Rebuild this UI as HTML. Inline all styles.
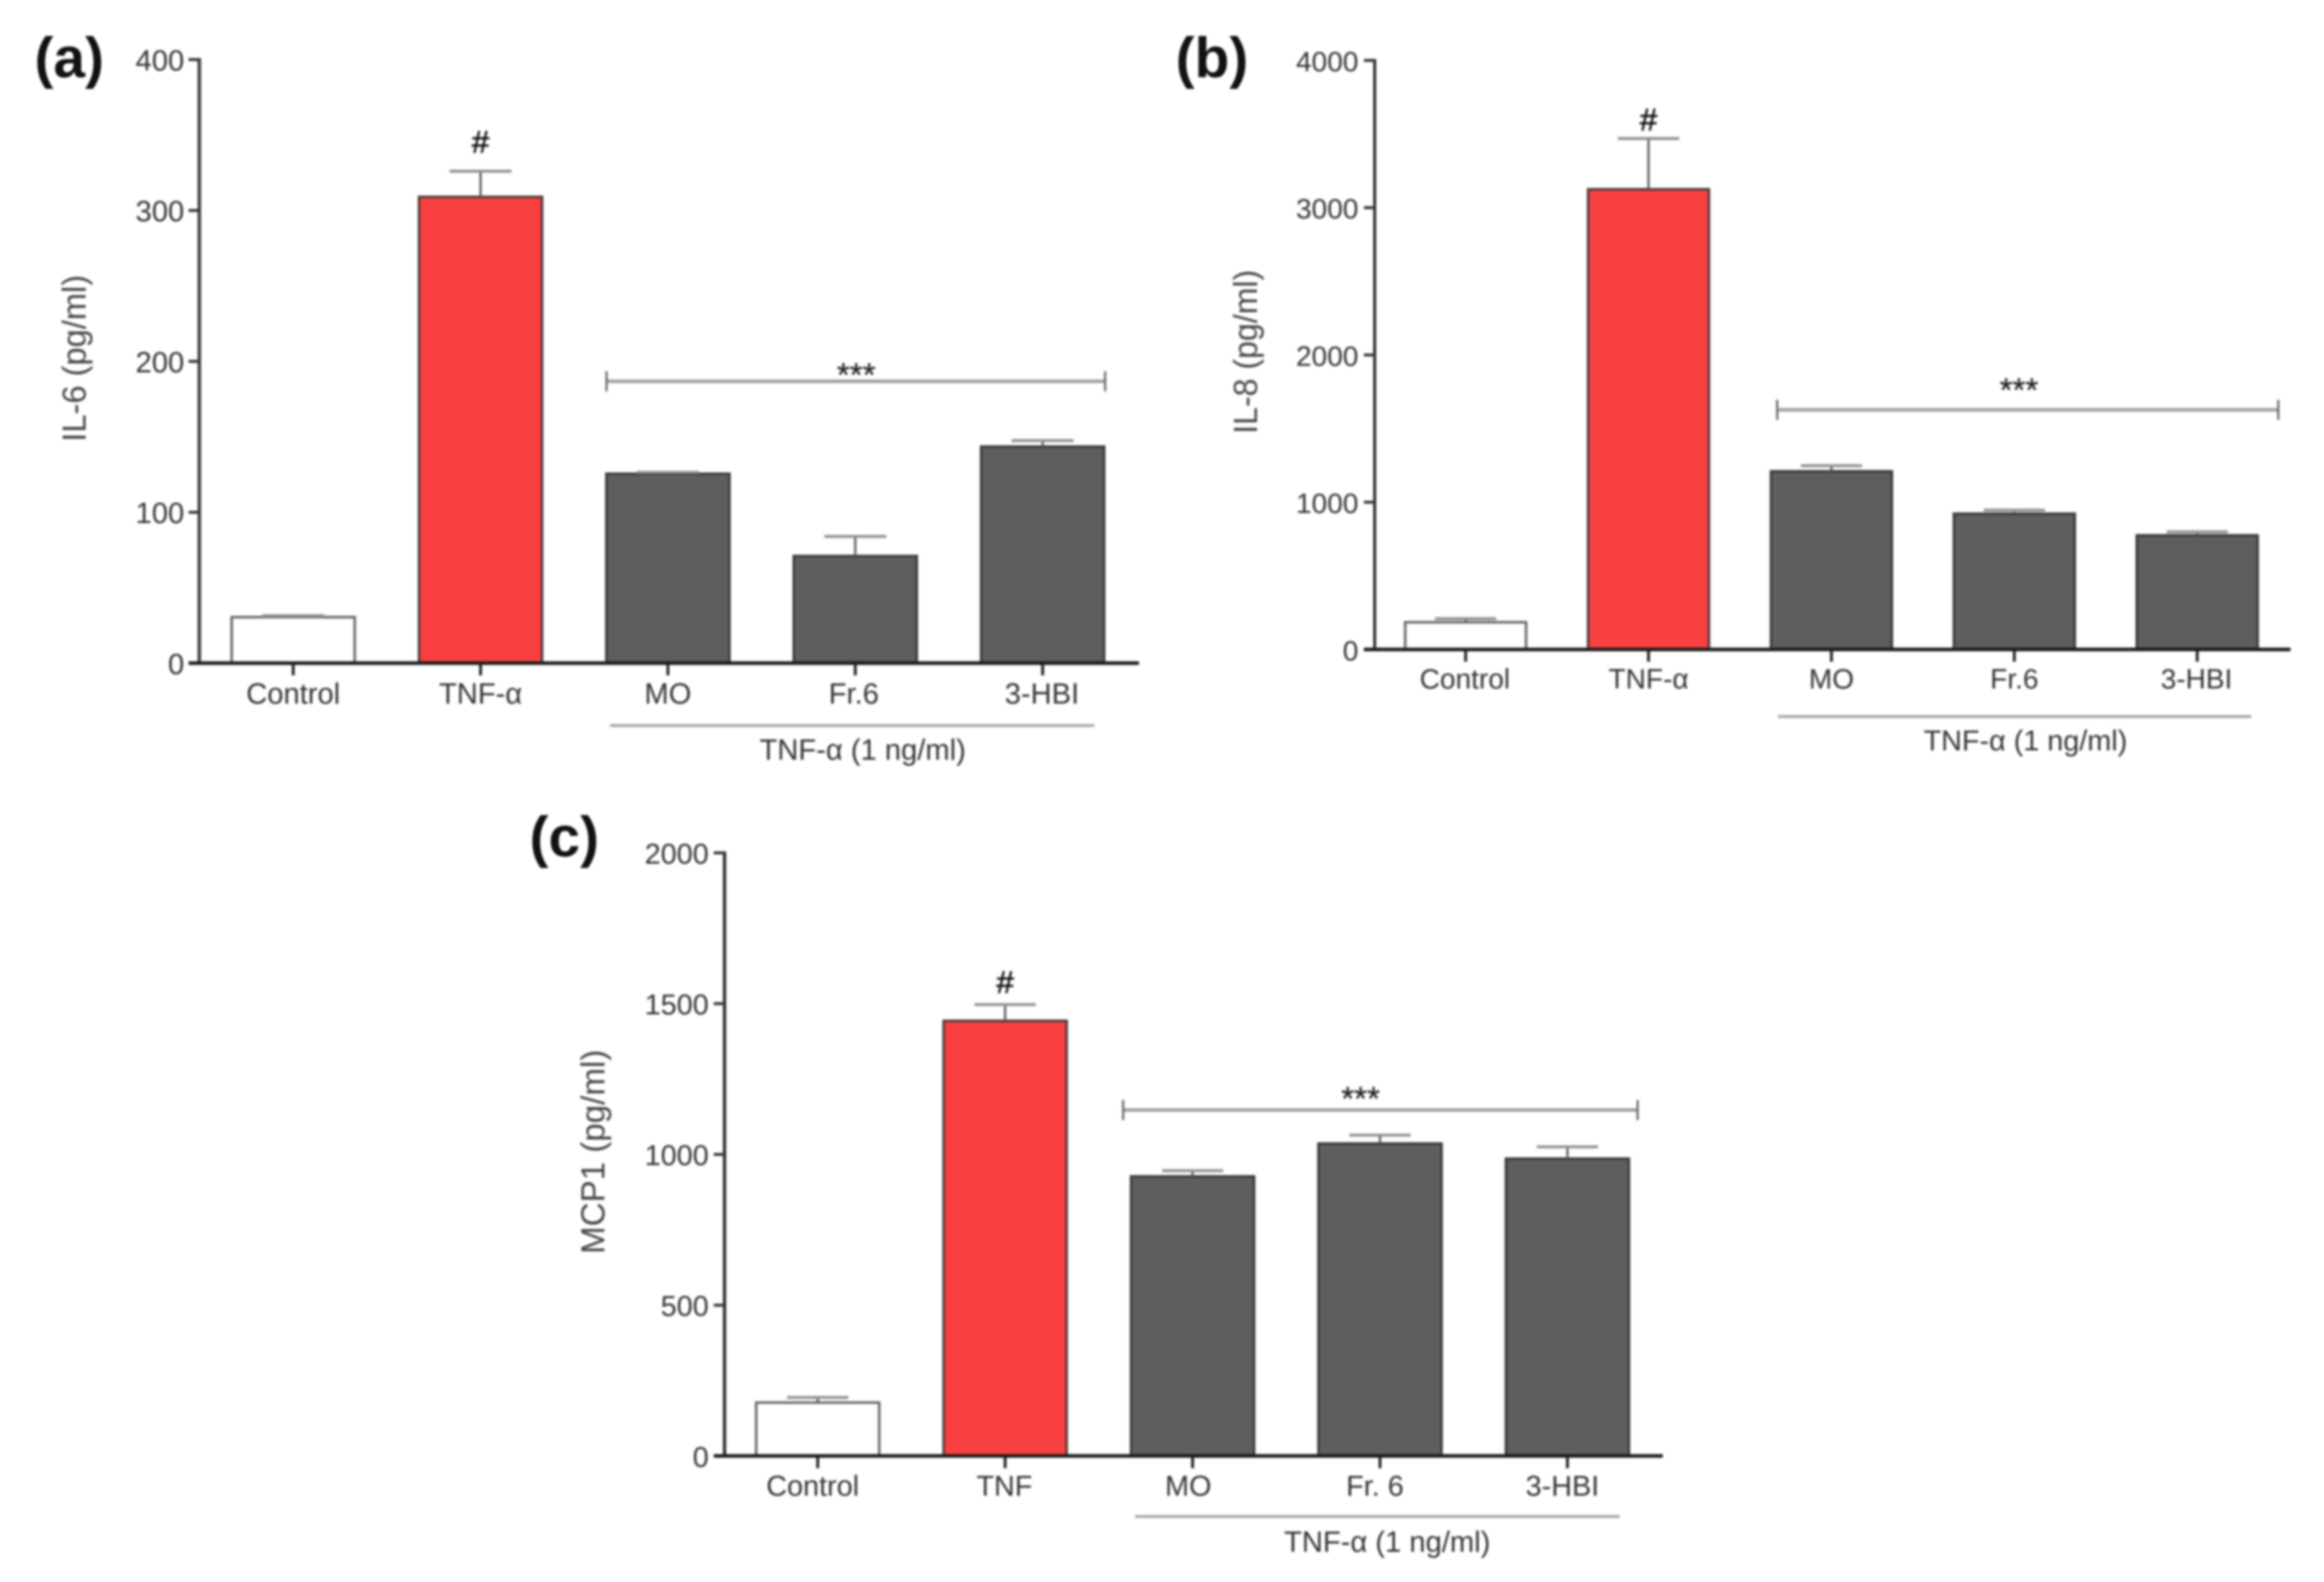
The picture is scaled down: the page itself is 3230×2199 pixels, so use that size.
<!DOCTYPE html>
<html lang="en">
<head>
<meta charset="utf-8">
<title>Cytokine bar charts</title>
<style>
  html, body { margin: 0; padding: 0; background: #fff; }
  #figure { display: block; width: 3230px; height: 2199px; background: #fff; }
  #figure text { font-family: "Liberation Sans", "DejaVu Sans", sans-serif; fill: #333; }
  #figure g.blurred { filter: blur(1.5px); }
</style>
</head>
<body>
<svg id="figure" xmlns="http://www.w3.org/2000/svg" width="3230" height="2199" viewBox="0 0 3230 2199"></svg>
<script>
// Panel (a) data
const il6Categories = ["Control", "TNF-α", "MO", "Fr.6", "3-HBI"];
const il6Values = [30.5, 309, 125.5, 71, 143.5];
const il6Errors = [1, 17, 1, 13, 4];
const il6Ticks = [0, 100, 200, 300, 400];

// Panel (b) data
const il8Categories = ["Control", "TNF-α", "MO", "Fr.6", "3-HBI"];
const il8Values = [185, 3125, 1210, 922, 775];
const il8Errors = [24, 345, 38, 24, 24];
const il8Ticks = [0, 1000, 2000, 3000, 4000];

// Panel (c) data
const mcp1Categories = ["Control", "TNF", "MO", "Fr. 6", "3-HBI"];
const mcp1Values = [177, 1443, 927, 1036, 986];
const mcp1Errors = [17, 54, 19, 28, 39];
const mcp1Ticks = [0, 500, 1000, 1500, 2000];

const svg = document.getElementById('figure');
const NS = 'http://www.w3.org/2000/svg';

function make(parent, tag, attrs, text) {
  const el = document.createElementNS(NS, tag);
  for (const k in attrs) el.setAttribute(k, attrs[k]);
  if (text !== undefined) el.textContent = text;
  parent.appendChild(el);
  return el;
}

const barFills = ['#ffffff', '#f94040', '#5e5e5e', '#5e5e5e', '#5e5e5e'];
const barStrokes = ['#666666', '#4a3a3a', '#3a3a3a', '#3a3a3a', '#3a3a3a'];

function drawPanel(p) {
  const yScale = v => p.zeroY - (v / p.yMax) * (p.zeroY - p.topY);
  const xBand = i => p.firstX + p.stepX * i;

  const g = make(svg, 'g', { class: 'blurred' });
  
  

  const letter = make(g, 'text', {
    x: p.letterX, y: p.letterY, 'font-size': p.letterSize, 'font-weight': 'bold',
    style: 'fill:#111', 'text-anchor': 'start'
  }, p.letter);
  
  

  const title = make(g, 'text', {
    transform: 'translate(' + p.titleX + ',' + p.titleY + ') rotate(-90)',
    'font-size': 46, 'text-anchor': 'middle',
    textLength: p.titleLen, lengthAdjust: 'spacingAndGlyphs', style: 'fill:#444'
  }, p.title);
  
  

  // Bars and error bars
  p.values.forEach((v, i) => {
    const cx = xBand(i);
    const top = yScale(v);
    const bar = make(g, 'rect', {
      x: cx - p.barW / 2, y: top, width: p.barW, height: p.zeroY - top,
      fill: barFills[i], stroke: barStrokes[i], 'stroke-width': 3.5
    });
    
    

    const errTop = yScale(v + p.errors[i]);
    const stem = make(g, 'line', {
      x1: cx, x2: cx, y1: top, y2: errTop, stroke: '#555', 'stroke-width': 3
    });
    
    

    const cap = make(g, 'line', {
      x1: cx - p.capW / 2, x2: cx + p.capW / 2, y1: errTop, y2: errTop,
      stroke: '#8f8f8f', 'stroke-width': 4
    });
    
    

    const tick = make(g, 'line', {
      x1: cx, x2: cx, y1: p.zeroY, y2: p.zeroY + 17, stroke: '#222', 'stroke-width': 4
    });
    
    

    const label = make(g, 'text', {
      x: cx + p.labelDx[i], y: p.labelY, 'font-size': p.fontSize, 'text-anchor': 'middle'
    }, p.categories[i]);
    
    
  });

  // Y axis
  const yAxis = make(g, 'line', {
    x1: p.axisX, x2: p.axisX, y1: p.topY - 2, y2: p.zeroY + 2,
    stroke: p.axisColor, 'stroke-width': p.axisW
  });
  
  

  p.ticks.forEach(t => {
    const y = yScale(t);
    const tick = make(g, 'line', {
      x1: p.axisX - 15, x2: p.axisX, y1: y, y2: y, stroke: '#333', 'stroke-width': 4
    });
    
    

    const label = make(g, 'text', {
      x: p.tickLabelX, y: y + 15, 'font-size': p.fontSize, 'text-anchor': 'end'
    }, String(t));
    
    
  });

  // X axis
  const xAxis = make(g, 'line', {
    x1: p.axisX - 15, x2: p.axisEnd, y1: p.zeroY, y2: p.zeroY, stroke: '#1c1c1c', 'stroke-width': 5
  });
  
  

  // Hash above TNF bar
  const hash = make(g, 'text', {
    x: xBand(1), y: p.hashY, 'font-size': 44, 'text-anchor': 'middle',
    style: 'fill:#111;stroke:#111;stroke-width:0.8'
  }, '#');
  
  

  // Significance bracket
  const bracket = make(g, 'g', {});
  
  
  make(bracket, 'line', { x1: p.brX1, x2: p.brX2, y1: p.brY, y2: p.brY, stroke: '#a2a2a2', 'stroke-width': 5 });
  make(bracket, 'line', { x1: p.brX1, x2: p.brX1, y1: p.brY - 14, y2: p.brY + 14, stroke: '#666', 'stroke-width': 3 });
  make(bracket, 'line', { x1: p.brX2, x2: p.brX2, y1: p.brY - 14, y2: p.brY + 14, stroke: '#666', 'stroke-width': 3 });

  const stars = make(g, 'text', {
    x: p.starX, y: p.starY, 'font-size': 46, 'text-anchor': 'middle',
    style: 'fill:#222;stroke:#222;stroke-width:0.4'
  }, '***');
  
  

  // Treatment group underline and caption
  const groupLine = make(g, 'line', {
    x1: p.grX1, x2: p.grX2, y1: p.grY, y2: p.grY, stroke: '#a6a6a6', 'stroke-width': 4
  });
  
  

  const groupLabel = make(g, 'text', {
    x: p.grTextX, y: p.grTextY, 'font-size': p.grSize, 'text-anchor': 'middle'
  }, 'TNF-α (1 ng/ml)');
  
  
}

drawPanel({
  key: 'a', letter: '(a)', letterX: 48, letterY: 107, letterSize: 79,
  title: 'IL-6 (pg/ml)', titleX: 119, titleY: 498, titleLen: 232,
  categories: il6Categories, values: il6Values, errors: il6Errors, ticks: il6Ticks, yMax: 400,
  axisX: 277, axisW: 5, axisColor: '#444', topY: 82.8, zeroY: 921.8, axisEnd: 1583,
  firstX: 407.5, stepX: 260.4, barW: 171, capW: 86,
  labelDx: [0, 0, 0, -2, -1], labelY: 978, fontSize: 40.5, tickLabelX: 256,
  hashY: 212, brX1: 843, brX2: 1536, brY: 530, starX: 1190, starY: 537,
  grX1: 848, grX2: 1521, grY: 1008.5, grTextX: 1199, grTextY: 1056, grSize: 40.5
});

drawPanel({
  key: 'b', letter: '(b)', letterX: 1634, letterY: 107, letterSize: 79,
  title: 'IL-8 (pg/ml)', titleX: 1747, titleY: 489, titleLen: 228,
  categories: il8Categories, values: il8Values, errors: il8Errors, ticks: il8Ticks, yMax: 4000,
  axisX: 1910.6, axisW: 4, axisColor: '#222', topY: 84, zeroY: 902.8, axisEnd: 3183.5,
  firstX: 2037, stepX: 254.2, barW: 168, capW: 85,
  labelDx: [-1, 0, 0, 0, -1], labelY: 957, fontSize: 39, tickLabelX: 1888,
  hashY: 181, brX1: 2470, brX2: 3166.5, brY: 569.6, starX: 2806, starY: 558,
  grX1: 2471, grX2: 3129, grY: 996, grTextX: 2815, grTextY: 1043, grSize: 40
});

drawPanel({
  key: 'c', letter: '(c)', letterX: 736, letterY: 1190, letterSize: 79,
  title: 'MCP1 (pg/ml)', titleX: 840, titleY: 1601, titleLen: 284,
  categories: mcp1Categories, values: mcp1Values, errors: mcp1Errors, ticks: mcp1Ticks, yMax: 2000,
  axisX: 1007, axisW: 4.5, axisColor: '#2a2a2a', topY: 1185.5, zeroY: 2023.8, axisEnd: 2311,
  firstX: 1136.5, stepX: 260.5, barW: 171, capW: 85,
  labelDx: [-7, -1, -6, -7, -7], labelY: 2079, fontSize: 40, tickLabelX: 985,
  hashY: 1380, brX1: 1561, brX2: 2276, brY: 1543, starX: 1891, starY: 1543,
  grX1: 1577.5, grX2: 2251, grY: 2108, grTextX: 1928, grTextY: 2157, grSize: 40.5
});
</script>
</body>
</html>
